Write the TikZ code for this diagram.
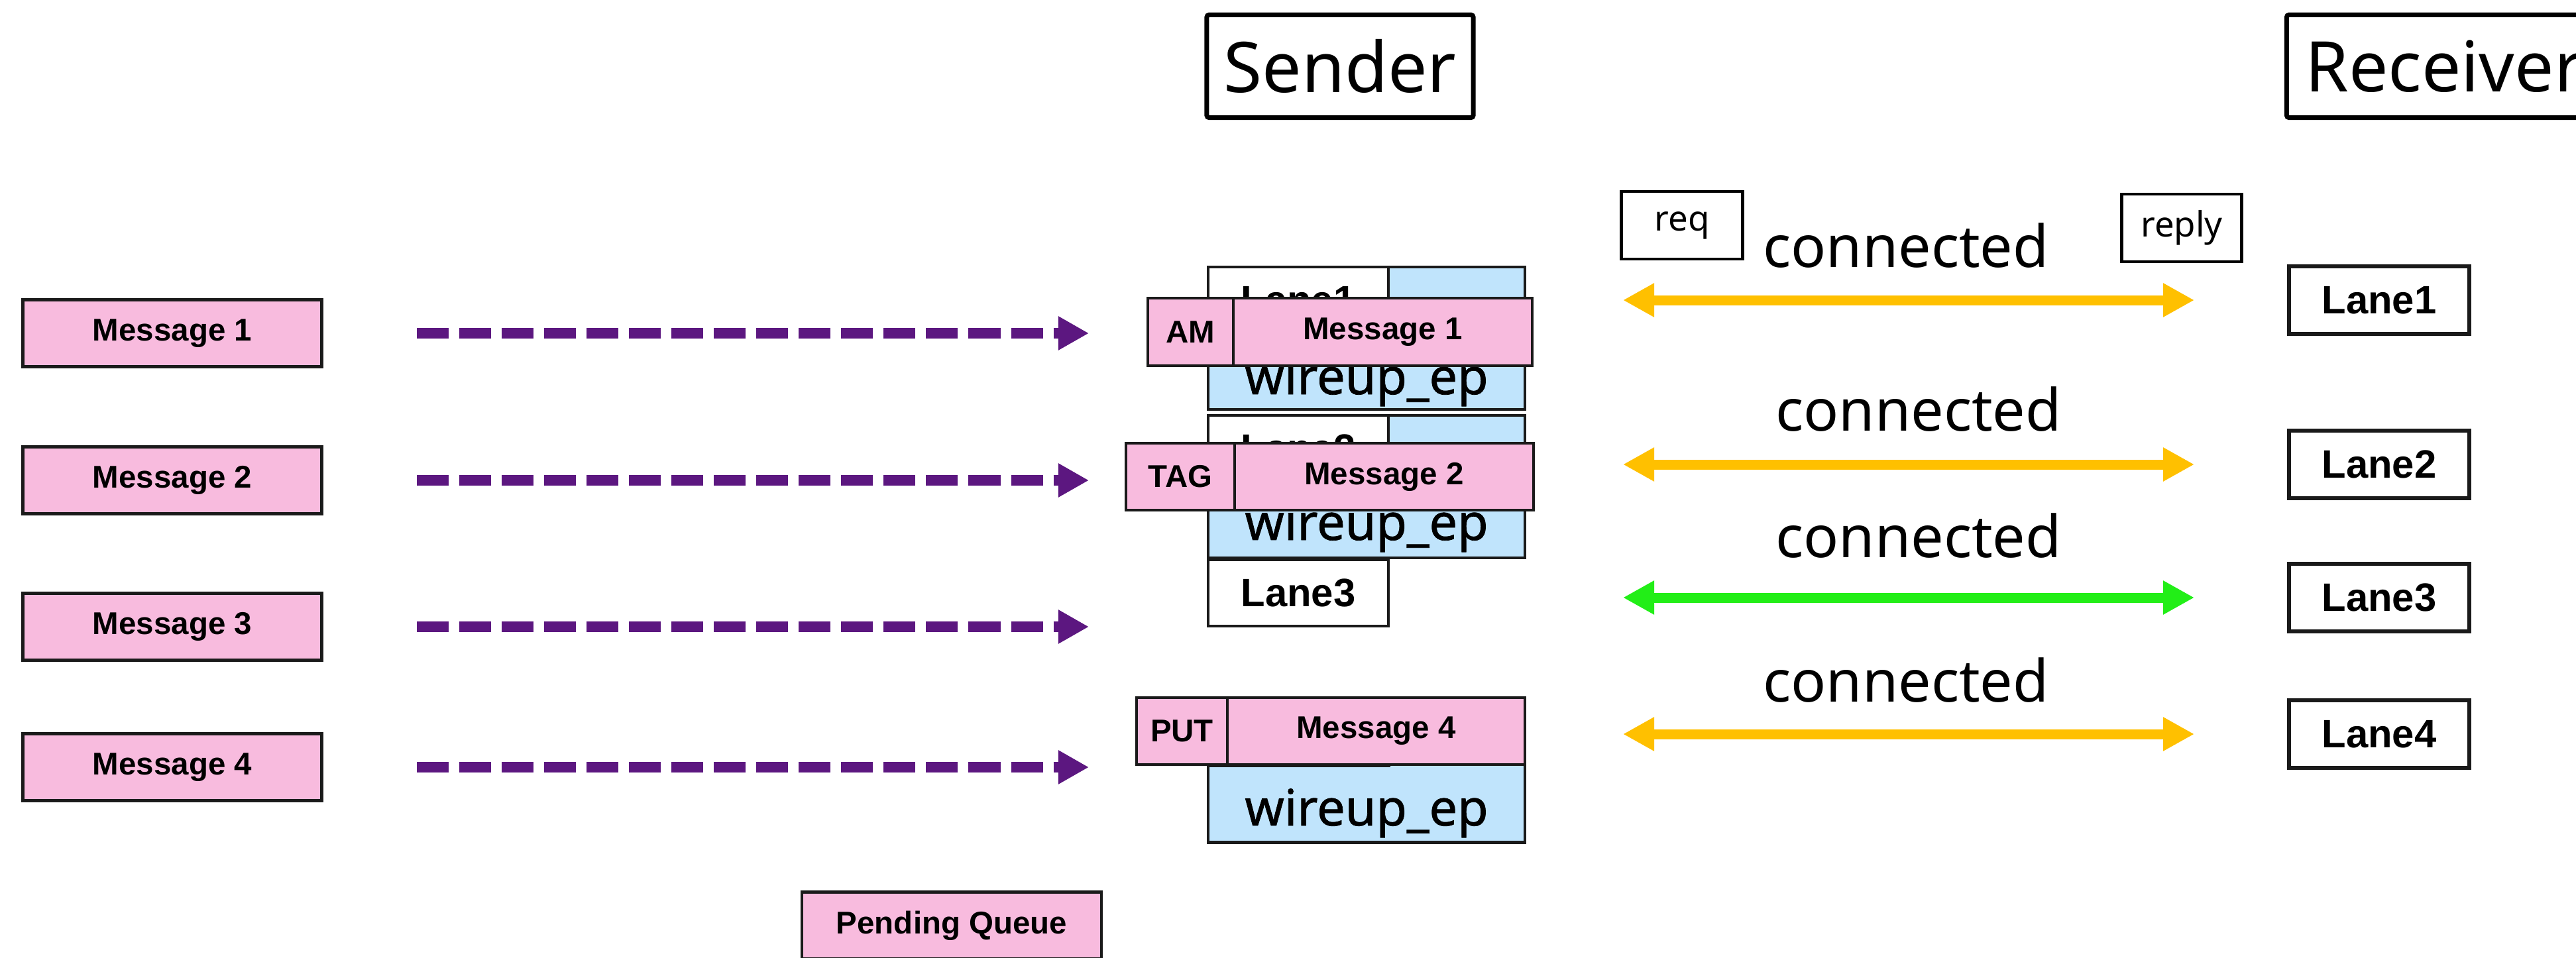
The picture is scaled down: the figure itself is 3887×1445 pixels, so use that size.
\documentclass[tikz,border=0pt]{standalone}
\usepackage{fontspec}
\setmainfont{Noto Sans}
\newfontfamily\heavysans{Liberation Sans}
\newfontfamily\medsans[FakeBold=1]{Noto Sans}
\usetikzlibrary{arrows.meta}

\definecolor{msgpink}{HTML}{F8BBDE}
\definecolor{epblue}{HTML}{C0E4FC}
\definecolor{flowpurple}{HTML}{5C1780}
\definecolor{linkyellow}{HTML}{FFC000}
\definecolor{linkgreen}{HTML}{22EE17}
\definecolor{edgeblack}{HTML}{1A1A1A}

\tikzset{
  box/.style={draw=edgeblack, line width=1.3pt, inner sep=0pt},
  msg/.style={box, fill=msgpink, minimum height=1.01cm, font=\fontsize{13.5}{15}\selectfont\heavysans\bfseries},
  lane/.style={box, fill=white, minimum width=2.72cm, minimum height=1cm, font=\fontsize{17}{20}\selectfont\heavysans\bfseries},
  ep/.style={box, fill=epblue, minimum width=4.78cm, minimum height=2.15cm},
  eplabel/.style={font=\fontsize{21.5}{24}\selectfont\medsans, anchor=base, inner sep=0pt},
  side/.style={draw, line width=2pt, rounded corners=1pt, inner sep=0pt, minimum height=1.55cm, font=\fontsize{30}{34}\selectfont},
  small/.style={draw, line width=1.4pt, inner sep=0pt, minimum height=1.02cm, font=\fontsize{15}{17}\selectfont},
  conn/.style={font=\fontsize{25}{28}\selectfont, anchor=base, inner sep=0pt},
  flow/.style={flowpurple, line width=0.16cm, dash pattern=on 0.48cm off 0.16cm, -{Triangle[length=0.46cm,width=0.48cm]}},
  link/.style={linkyellow, line width=0.15cm, {Triangle[length=0.47cm,width=0.48cm]}-{Triangle[length=0.47cm,width=0.48cm]}}
}

\begin{document}
\begin{tikzpicture}[x=0.01cm, y=-0.01cm]
\useasboundingbox (0,0) rectangle (3887,1445);
\clip (0,0) rectangle (3887,1445);

% the two sides
\node[side, minimum width=4.02cm] (snd) at (2022,100) {Sender};
\node[side, minimum width=4.75cm] (rcv) at (3688,100) {Receiver};

% queued messages
\node[msg, minimum width=4.51cm] (m1) at (260,503) {Message 1};
\node[msg, minimum width=4.51cm] (m2) at (260,725) {Message 2};
\node[msg, minimum width=4.51cm] (m3) at (260,946) {Message 3};
\node[msg, minimum width=4.51cm] (m4) at (260,1158) {Message 4};
\node[msg, minimum width=4.52cm] (pq) at (1436,1397) {Pending Queue};

\coordinate (e1) at (1643,503);
\coordinate (e2) at (1643,725);
\coordinate (e3) at (1643,946);
\coordinate (e4) at (1643,1158);
\draw[flow, shorten <=1.41cm] (m1.east) -- (e1);
\draw[flow, shorten <=1.41cm] (m2.east) -- (e2);
\draw[flow, shorten <=1.41cm] (m3.east) -- (e3);
\draw[flow, shorten <=1.41cm] (m4.east) -- (e4);

% sender endpoints
\node[ep] (ep1) at (2062,510.5) {};
\node[eplabel] (w1) at (2062,595) {wireup\_ep};
\node[lane] (l1) at (1959,453) {Lane1};
\node[msg, minimum width=1.29cm, minimum height=1.02cm] (am) at (1796.5,501) {AM};
\node[msg, minimum width=4.51cm, minimum height=1.02cm] (q1) at (2086.5,501) {Message 1};

\node[ep] (ep2) at (2062,734.5) {};
\node[eplabel] (w2) at (2062,815) {wireup\_ep};
\node[lane] (l2) at (1959,677) {Lane2};
\node[msg, minimum width=1.64cm] (tag) at (1781,719.5) {TAG};
\node[msg, minimum width=4.51cm] (q2) at (2088.5,719.5) {Message 2};

\node[lane] (l3) at (1959,895) {Lane3};

\node[ep] (ep4) at (2062,1164) {};
\node[eplabel] (w4) at (2062,1246) {wireup\_ep};
\node[lane] (l4) at (1960,1106) {};
\node[msg, minimum width=1.37cm] (put) at (1783.5,1103.5) {PUT};
\node[msg, minimum width=4.49cm] (q4) at (2076.5,1103.5) {Message 4};

% receiver lanes
\node[lane, line width=1.6pt, minimum height=1.02cm] (r1) at (3590,453) {Lane1};
\node[lane, line width=1.6pt, minimum height=1.02cm] (r2) at (3590,701) {Lane2};
\node[lane, line width=1.6pt, minimum height=1.02cm] (r3) at (3590,902) {Lane3};
\node[lane, line width=1.6pt, minimum height=1.02cm] (r4) at (3590,1108) {Lane4};

\node[small, minimum width=1.83cm] (req) at (2538,340) {req};
\node[small, minimum width=1.81cm] (rep) at (3292,344) {reply};

\coordinate (c1) at (2449,453);
\coordinate (c2) at (2449,701);
\coordinate (c3) at (2449,902);
\coordinate (c4) at (2449,1108);
\draw[link, shorten >=1.40cm] (c1) -- (r1);
\draw[link, shorten >=1.40cm] (c2) -- (r2);
\draw[link, linkgreen, shorten >=1.40cm] (c3) -- (r3);
\draw[link, shorten >=1.40cm] (c4) -- (r4);

\node[conn] (t1) at (2876,403) {connected};
\node[conn] (t2) at (2895,650) {connected};
\node[conn] (t3) at (2895,841) {connected};
\node[conn] (t4) at (2876,1059) {connected};
\end{tikzpicture}
\end{document}
